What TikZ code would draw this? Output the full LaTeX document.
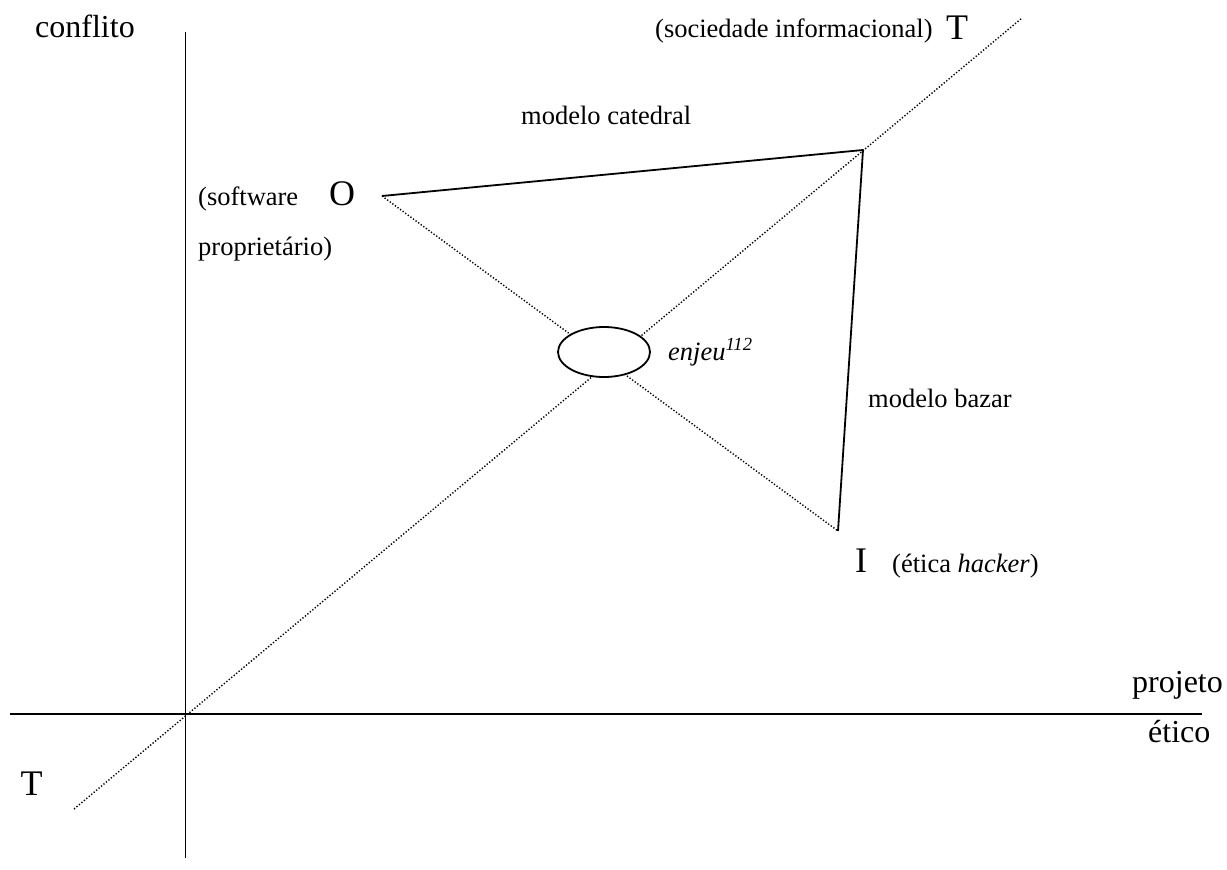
\documentclass[tikz,border=0pt]{standalone}
\usepackage{fontspec}
\setmainfont{Liberation Serif}
\usetikzlibrary{shapes.geometric}
\newcommand{\smallsz}{\fontsize{26.5}{30}\selectfont}
\newcommand{\midsz}{\fontsize{32}{36}\selectfont}
\newcommand{\bigsz}{\fontsize{36}{40}\selectfont}
\begin{document}
\begin{tikzpicture}[x=1pt,y=-1pt,
  lbl/.style={inner sep=0pt,anchor=base west},
  solidline/.style={line width=1.8pt},
  dotline/.style={line width=1.4pt,dash pattern=on 1.3pt off 1.9pt},
  ]
\useasboundingbox (0,0) rectangle (1227,870);
% axis coordinates
\coordinate (vtop) at (185.5,32);
\coordinate (vbot) at (185.5,858);
\coordinate (hleft) at (10,714);
\coordinate (hright) at (1202,714);
\coordinate (dl) at (74,809);
\coordinate (du) at (1022,18);
\coordinate (po) at (382,196);
\coordinate (pv) at (863,150);
\coordinate (pi) at (838,531);
% axes
\draw[solidline] (vtop) -- (vbot);
\draw[solidline] (hleft) -- (hright);
% dotted lines
\draw[dotline] (dl) -- (du);
\draw[dotline] (po) -- (pi);
% solid triangle sides
\draw[solidline,line join=round] (po) -- (pv) -- (pi);
% ellipse
\node[ellipse,draw,line width=1.8pt,fill=white,minimum width=92pt,minimum height=50pt,inner sep=0pt] (enj) at (604,352) {};
% labels
\node[lbl] (conf) at (35,37) {\midsz conflito};
\node[lbl] (soc) at (655,37) {\smallsz (sociedade informacional)};
\node[inner sep=0pt,anchor=base] (tt) at (957,39) {\bigsz T};
\node[lbl] (cat) at (521,124) {\smallsz modelo catedral};
\node[lbl] (soft) at (198,205) {\smallsz (software};
\node[inner sep=0pt,anchor=base] (oo) at (342,205) {\bigsz O};
\node[lbl] (prop) at (198,255) {\smallsz propriet\'ario)};
\node[lbl] (enjl) at (668,360) {\smallsz\itshape enjeu\textsuperscript{112}};
\node[lbl] (baz) at (868,407) {\smallsz modelo bazar};
\node[inner sep=0pt,anchor=base] (ii) at (861,572) {\bigsz I};
\node[lbl] (hack) at (892,572) {\smallsz (\'etica \textit{hacker})};
\node[lbl] (proj) at (1132,692) {\midsz projeto};
\node[lbl] (etic) at (1148,742) {\midsz \'etico};
\node[inner sep=0pt,anchor=base] (tb) at (31.5,795) {\bigsz T};
\end{tikzpicture}
\end{document}
